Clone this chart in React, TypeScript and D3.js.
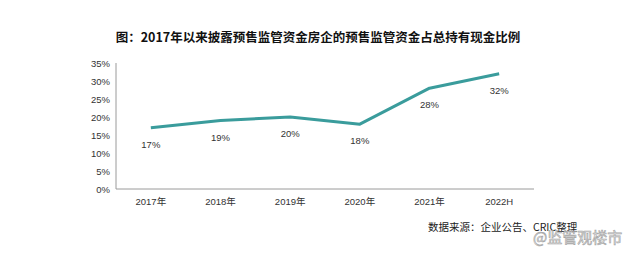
import React from "react";
import * as d3 from "d3";

const years = ["2017年", "2018年", "2019年", "2020年", "2021年", "2022H"];
const ratio = [17, 19, 20, 18, 28, 32];
const yTicks = [0, 5, 10, 15, 20, 25, 30, 35];

const title = "图：2017年以来披露预售监管资金房企的预售监管资金占总持有现金比例";
const source = "数据来源：企业公告、CRIC整理";
const watermark = "@监管观楼市";

const W = 640;
const H = 256;
const left = 116;
const right = 534;
const top = 63;
const bottom = 189;

export default function App() {
  const x = d3.scaleBand<string>().domain(years).range([left, right]);
  const y = d3.scaleLinear().domain([0, 35]).range([bottom, top]);

  const line = d3
    .line<number>()
    .x((_, i) => (x(years[i]) ?? 0) + x.bandwidth() / 2)
    .y((d) => y(d));

  const font = "'Liberation Sans', Arial, 'Noto Sans CJK SC', sans-serif";

  return (
    <svg
      width={W}
      height={H}
      style={{ position: "absolute", left: 0, top: 0, background: "#fff" }}
    >
      <text
        x={318}
        y={42}
        textAnchor="middle"
        fontSize={12.5}
        fontWeight="bold"
        fontFamily="'Noto Sans CJK SC', sans-serif"
        fill="#111"
      >
        {title}
      </text>

      {/* axes */}
      <line x1={left} x2={left} y1={top} y2={bottom} stroke="#9a9a9a" strokeWidth={1} />
      <line x1={left} x2={right} y1={bottom} y2={bottom} stroke="#9a9a9a" strokeWidth={1} />

      {yTicks.map((t) => (
        <text
          key={t}
          x={left - 6}
          y={y(t) + 3.5}
          textAnchor="end"
          fontSize={9.5}
          fontFamily={font}
          fill="#333"
        >
          {t + "%"}
        </text>
      ))}

      {years.map((yr) => (
        <text
          key={yr}
          x={(x(yr) ?? 0) + x.bandwidth() / 2}
          y={205}
          textAnchor="middle"
          fontSize={9.5}
          fontFamily={font}
          fill="#333"
        >
          {yr}
        </text>
      ))}

      <path
        d={line(ratio) ?? ""}
        fill="none"
        stroke="#3a9c9c"
        strokeWidth={3}
        strokeLinejoin="round"
      />

      {ratio.map((v, i) => (
        <text
          key={i}
          x={(x(years[i]) ?? 0) + x.bandwidth() / 2}
          y={y(v) + 20}
          textAnchor="middle"
          fontSize={9.5}
          fontFamily={font}
          fill="#333"
        >
          {v + "%"}
        </text>
      ))}

      <text
        x={428}
        y={231}
        fontSize={10.5}
        fontFamily="'Noto Sans CJK SC', sans-serif"
        fill="#222"
      >
        {source}
      </text>

      <text
        x={533}
        y={243}
        fontSize={15}
        fontFamily="'Noto Sans CJK SC', sans-serif"
        fill="#e8e8e8"
        stroke="#9a9a9a"
        strokeWidth={0.6}
        opacity={0.9}
      >
        {watermark}
      </text>
    </svg>
  );
}
